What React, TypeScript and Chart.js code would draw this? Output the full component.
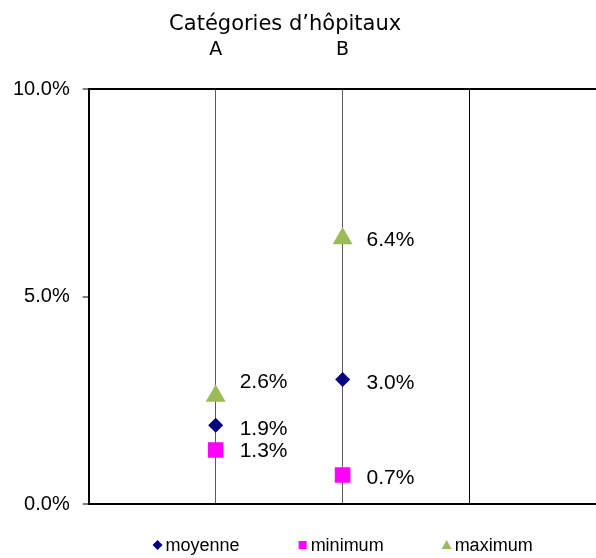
import React, { useEffect, useRef } from 'react';
import { Chart, registerables } from 'chart.js';

Chart.register(...registerables);

const chartTitle = 'Catégories d’hôpitaux';
const categories = ['A', 'B'];
const seriesNames = ['moyenne', 'minimum', 'maximum'];
const moyenne = [1.9, 3.0];
const minimum = [1.3, 0.7];
const maximum = [2.6, 6.4];
const yTicks = [0, 5, 10];

const colors = ['#000080', '#FF00FF', '#9BBB59'];
const styles = ['rectRot', 'rect', 'triangle'];
const radii = [7.5, 11, 11.5];

const FONT_SANS = '"Liberation Sans", Arial, sans-serif';
const FONT_TITLE = '"DejaVu Sans", Verdana, sans-serif';

const toPoints = (vals: number[]) => vals.map((v, i) => ({ x: i + 1, y: v }));

const textPlugin = {
  id: 'textPlugin',
  afterDraw(chart: any) {
    const ctx = chart.ctx as CanvasRenderingContext2D;
    const xs = chart.scales.x;
    const area = chart.chartArea;
    ctx.save();
    ctx.fillStyle = '#000';
    ctx.textBaseline = 'middle';
    ctx.textAlign = 'center';
    // category labels
    ctx.font = `19px ${FONT_TITLE}`;
    const px = categories.map((_, i) => xs.getPixelForValue(i + 1));
    categories.forEach((c, i) => ctx.fillText(c, px[i], 50));
    // title
    ctx.font = `21px ${FONT_TITLE}`;
    const mid = (px[0] + px[px.length - 1]) / 2;
    ctx.fillText(chartTitle, mid + 6, 25);

    // data labels
    const nudges: number[][] = chart.options.plugins.textPlugin.nudges;
    ctx.font = `21px ${FONT_SANS}`;
    ctx.textAlign = 'left';
    chart.data.datasets.forEach((ds: any, di: number) => {
      const meta = chart.getDatasetMeta(di);
      meta.data.forEach((pt: any, pi: number) => {
        const v = ds.data[pi].y;
        ctx.fillText(v.toFixed(1) + '%', pt.x + 24, pt.y + nudges[di][pi]);
      });
    });

    // legend
    ctx.font = `18px ${FONT_SANS}`;
    const marker = 10;
    const gapM = 3;
    const gapItems = 58;
    const widths = chart.data.datasets.map((ds: any) => marker + gapM + ctx.measureText(ds.label).width);
    const total = widths.reduce((a: number, b: number) => a + b, 0) + gapItems * (widths.length - 1);
    let x = (area.left + area.right) / 2 - total / 2;
    const y = area.bottom + 41;
    chart.data.datasets.forEach((ds: any, di: number) => {
      const cx = x + marker / 2;
      ctx.fillStyle = ds.backgroundColor;
      ctx.beginPath();
      if (ds.pointStyle === 'rectRot') {
        ctx.moveTo(cx, y - 5);
        ctx.lineTo(cx + 5, y);
        ctx.lineTo(cx, y + 5);
        ctx.lineTo(cx - 5, y);
      } else if (ds.pointStyle === 'rect') {
        ctx.rect(cx - 4, y - 4, 8, 8);
      } else {
        ctx.moveTo(cx, y - 5);
        ctx.lineTo(cx + 5, y + 4);
        ctx.lineTo(cx - 5, y + 4);
      }
      ctx.closePath();
      ctx.fill();
      ctx.fillStyle = '#000';
      ctx.fillText(ds.label, x + marker + gapM, y + 1);
      x += widths[di] + gapItems;
    });
    ctx.restore();
  },
};

export default function App() {
  const ref = useRef<HTMLCanvasElement>(null);
  useEffect(() => {
    document.body.style.margin = '0';
    document.body.style.overflow = 'hidden';
    const canvas = ref.current!;
    const seriesData = [moyenne, minimum, maximum];
    const chart = new Chart(canvas, {
      type: 'scatter',
      data: {
        datasets: seriesNames.map((name, i) => ({
          label: name,
          data: toPoints(seriesData[i]),
          backgroundColor: colors[i],
          borderColor: colors[i],
          pointStyle: styles[i] as any,
          pointRadius: radii[i],
          pointHoverRadius: radii[i],
          pointBorderWidth: 0,
          showLine: false,
        })),
      },
      options: {
        responsive: false,
        animation: false,
        layout: { padding: { top: 89, left: 0, right: 0, bottom: 54 } },
        plugins: {
          legend: { display: false },
          title: { display: false },
          tooltip: { enabled: false },
          textPlugin: { nudges: [[4, 4], [1, 3], [-14, 2]] },
        } as any,
        scales: {
          x: {
            type: 'linear',
            min: 0,
            max: 4,
            ticks: { display: false, stepSize: 1, includeBounds: false },
            grid: {
              drawTicks: false,
              lineWidth: 1,
              color: (c: any) => {
                const v = c.tick?.value;
                if (v === 3) return '#000';
                if (v === 1 || v === 2) return '#5a5a5a';
                return 'rgba(0,0,0,0)';
              },
            },
            border: { display: true, color: '#000', width: 2 },
          },
          y: {
            min: 0,
            max: 10,
            afterBuildTicks: (s: any) => {
              s.ticks = yTicks.map((v) => ({ value: v }));
            },
            ticks: {
              callback: (v: any) => Number(v).toFixed(1) + '%',
              font: { size: 20, family: FONT_SANS },
              color: '#000',
              padding: 13,
            },
            grid: {
              drawOnChartArea: true,
              tickLength: 6,
              tickColor: '#000',
              tickWidth: 1,
              lineWidth: 2,
              color: (c: any) => (c.tick?.value === 10 ? '#000' : 'rgba(0,0,0,0)'),
            },
            border: { display: true, color: '#000', width: 2 },
          },
        },
      },
      plugins: [textPlugin],
    });
    return () => chart.destroy();
  }, []);
  return (
    <div style={{ width: 596, height: 558, overflow: 'hidden' }}>
      <canvas ref={ref} width={608} height={558} style={{ display: 'block' }} />
    </div>
  );
}
